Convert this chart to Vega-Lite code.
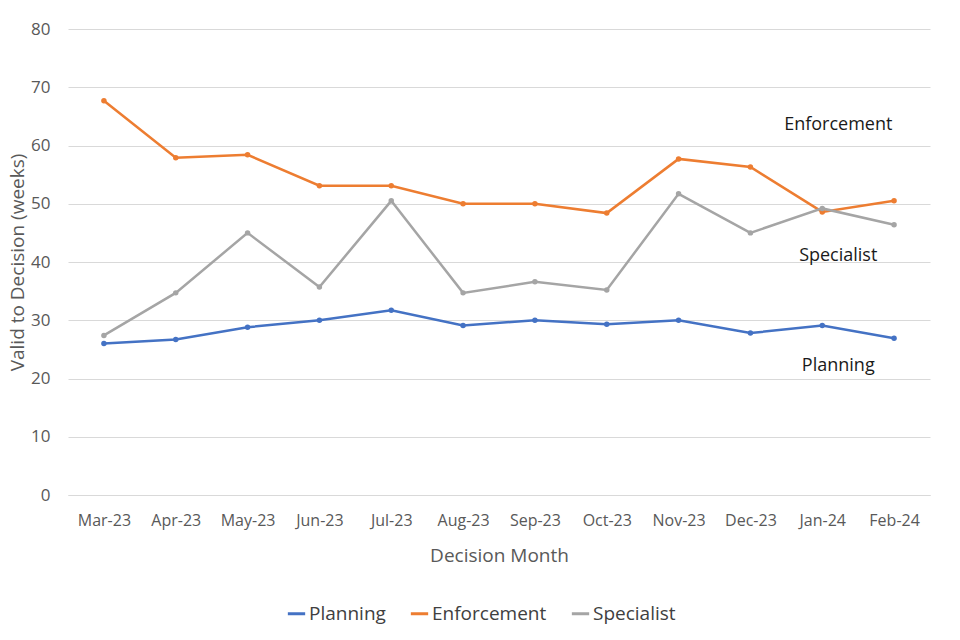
{
  "$schema": "https://vega.github.io/schema/vega-lite/v6.json",
  "width": 862,
  "height": 466,
  "autosize": {"type": "none"},
  "padding": {"left": 68, "top": 29, "right": 30, "bottom": 145},
  "background": "white",
  "config": {
    "view": {"stroke": null},
    "font": "Open Sans",
    "axis": {"labelFont": "Open Sans", "titleFont": "Open Sans", "labelColor": "#595959", "titleColor": "#595959", "titleFontWeight": "normal", "gridColor": "#d9d9d9", "domainColor": "#d9d9d9"}
  },
  "datasets": {
    "series": [
      {"month": "Mar-23", "series": "Planning", "weeks": 26.0},
      {"month": "Apr-23", "series": "Planning", "weeks": 26.7},
      {"month": "May-23", "series": "Planning", "weeks": 28.8},
      {"month": "Jun-23", "series": "Planning", "weeks": 30.0},
      {"month": "Jul-23", "series": "Planning", "weeks": 31.7},
      {"month": "Aug-23", "series": "Planning", "weeks": 29.1},
      {"month": "Sep-23", "series": "Planning", "weeks": 30.0},
      {"month": "Oct-23", "series": "Planning", "weeks": 29.3},
      {"month": "Nov-23", "series": "Planning", "weeks": 30.0},
      {"month": "Dec-23", "series": "Planning", "weeks": 27.8},
      {"month": "Jan-24", "series": "Planning", "weeks": 29.1},
      {"month": "Feb-24", "series": "Planning", "weeks": 26.9},
      {"month": "Mar-23", "series": "Enforcement", "weeks": 67.7},
      {"month": "Apr-23", "series": "Enforcement", "weeks": 57.9},
      {"month": "May-23", "series": "Enforcement", "weeks": 58.4},
      {"month": "Jun-23", "series": "Enforcement", "weeks": 53.1},
      {"month": "Jul-23", "series": "Enforcement", "weeks": 53.1},
      {"month": "Aug-23", "series": "Enforcement", "weeks": 50.0},
      {"month": "Sep-23", "series": "Enforcement", "weeks": 50.0},
      {"month": "Oct-23", "series": "Enforcement", "weeks": 48.4},
      {"month": "Nov-23", "series": "Enforcement", "weeks": 57.7},
      {"month": "Dec-23", "series": "Enforcement", "weeks": 56.3},
      {"month": "Jan-24", "series": "Enforcement", "weeks": 48.6},
      {"month": "Feb-24", "series": "Enforcement", "weeks": 50.5},
      {"month": "Mar-23", "series": "Specialist", "weeks": 27.4},
      {"month": "Apr-23", "series": "Specialist", "weeks": 34.7},
      {"month": "May-23", "series": "Specialist", "weeks": 45.0},
      {"month": "Jun-23", "series": "Specialist", "weeks": 35.7},
      {"month": "Jul-23", "series": "Specialist", "weeks": 50.5},
      {"month": "Aug-23", "series": "Specialist", "weeks": 34.7},
      {"month": "Sep-23", "series": "Specialist", "weeks": 36.6},
      {"month": "Oct-23", "series": "Specialist", "weeks": 35.2},
      {"month": "Nov-23", "series": "Specialist", "weeks": 51.7},
      {"month": "Dec-23", "series": "Specialist", "weeks": 45.0},
      {"month": "Jan-24", "series": "Specialist", "weeks": 49.2},
      {"month": "Feb-24", "series": "Specialist", "weeks": 46.4}
    ],
    "labels": [
      {"month": "Jan-24", "label": "Enforcement", "weeks": 63.6},
      {"month": "Jan-24", "label": "Specialist", "weeks": 41.1},
      {"month": "Jan-24", "label": "Planning", "weeks": 22.1}
    ]
  },
  "layer": [
    {
      "data": {"name": "series"},
      "mark": {"type": "line", "strokeWidth": 2.5, "point": {"size": 30, "filled": true}},
      "encoding": {
        "x": {
          "field": "month", "type": "ordinal", "sort": null,
          "scale": {"type": "point", "padding": 0.5},
          "axis": {"labelAngle": 0, "labelFontSize": 16, "labelPadding": 17, "ticks": false, "title": "Decision Month", "titleFontSize": 19, "titlePadding": 18, "grid": false, "domainWidth": 1}
        },
        "y": {
          "field": "weeks", "type": "quantitative",
          "scale": {"domain": [0, 80], "nice": false},
          "axis": {"values": [0,10,20,30,40,50,60,70,80], "labelOverlap": false, "labelFontSize": 17, "labelPadding": 18, "ticks": false, "domain": false, "title": "Valid to Decision (weeks)", "titleFontSize": 19, "titlePadding": 3}
        },
        "color": {
          "field": "series", "type": "nominal",
          "scale": {"domain": ["Planning", "Enforcement", "Specialist"], "range": ["#4472C4", "#ED7D31", "#A5A5A5"]},
          "legend": {"orient": "none", "legendX": 218, "legendY": 574, "direction": "horizontal", "title": null, "labelFontSize": 19, "labelColor": "#404040", "symbolType": "stroke", "symbolStrokeWidth": 3, "symbolSize": 300, "columnPadding": 18, "labelOffset": 2}
        }
      }
    },
    {
      "data": {"name": "labels"},
      "mark": {"type": "text", "fontSize": 18, "color": "#1a1a1a", "dx": 16, "font": "Open Sans"},
      "encoding": {
        "x": {"field": "month", "type": "ordinal", "sort": null},
        "y": {"field": "weeks", "type": "quantitative"},
        "text": {"field": "label"}
      }
    }
  ]
}
